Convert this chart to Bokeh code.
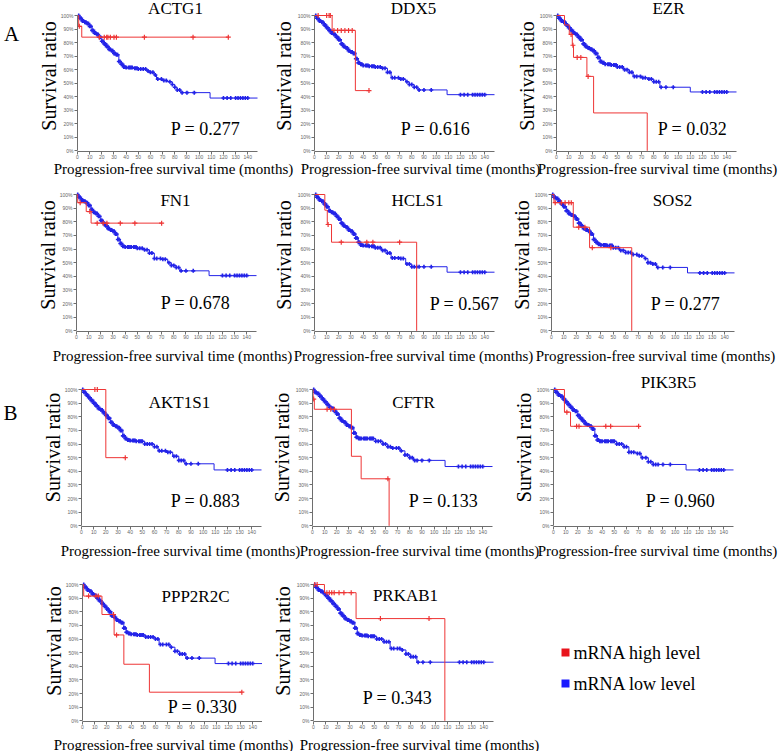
import numpy as np
from bokeh.plotting import figure
from bokeh.layouts import column, row
from bokeh.models import Range1d, FixedTicker, PrintfTickFormatter, Label, Legend, LegendItem, Title
from bokeh.embed import file_html
from bokeh.resources import INLINE

SERIF = "Liberation Serif"
BLUE = "#2323e8"
RED = "#ee3535"

GENES = ["ACTG1", "DDX5", "EZR", "FN1", "HCLS1", "SOS2",
         "AKT1S1", "CFTR", "PIK3R5", "PPP2R2C", "PRKAB1"]
P_VALUES = ["0.277", "0.616", "0.032", "0.678", "0.567", "0.277",
            "0.883", "0.133", "0.960", "0.330", "0.343"]
X_LABEL = "Progression-free survival time (months)"
Y_LABEL = "Survival ratio"
LEGEND_LABELS = ["mRNA high level", "mRNA low level"]

X_TICKS = [0, 10, 20, 30, 40, 50, 60, 70, 80, 90, 100, 110, 120, 130, 140]
Y_TICKS = [0, 10, 20, 30, 40, 50, 60, 70, 80, 90, 100]

EARLY_T = [0, 2, 4, 6, 8, 10, 12, 14, 16, 18, 20, 22, 24, 26, 28, 30, 32, 34, 36, 38, 40]

# ---- mRNA low level (blue) Kaplan-Meier steps: months, survival % ----
ACTG1_LOW_T = EARLY_T + [46, 50, 57, 60, 63, 65, 70, 74, 78, 80, 82, 85, 109, 148]
ACTG1_LOW_S = [100, 98, 96, 95, 94, 92, 89, 87, 86, 84, 81, 79, 77, 75, 74, 72, 71, 66, 64, 62, 61.5,
               61, 60.5, 59, 58, 56, 53, 52, 51, 49, 47, 45, 43, 39, 39]
DDX5_LOW_T = EARLY_T + [45, 50, 55, 60, 63, 70, 75, 78, 82, 85, 109, 148]
DDX5_LOW_S = [100, 98, 96, 95, 93, 91, 89, 87, 86, 84, 82, 79, 77, 76, 74, 73, 72, 68, 65, 64, 63,
              62.5, 62, 61, 58, 54, 53, 51, 49, 47, 45, 41.5, 41.5]
EZR_LOW_T = EARLY_T + [45, 50, 55, 60, 63, 70, 75, 80, 85, 110, 148]
EZR_LOW_S = [100, 98, 96, 95, 93, 91, 89, 87, 86, 84, 82, 79, 77, 76, 75, 74, 72, 69, 66, 65, 64,
             63.5, 62, 60, 58, 55, 54, 53, 51, 47, 43.5, 43.5]
FN1_LOW_T = EARLY_T + [45, 50, 55, 60, 64, 70, 75, 78, 82, 85, 109, 148]
FN1_LOW_S = [100, 98, 96, 95, 94, 92, 89, 87, 86, 84, 81, 79, 77, 75, 74, 73, 71, 67, 64, 62, 61.5,
             61.5, 60.5, 59.5, 57, 53, 52.5, 50, 48, 46.5, 44, 40.5, 40.5]
HCLS1_LOW_T = EARLY_T + [45, 50, 55, 60, 63, 70, 75, 80, 109, 148]
HCLS1_LOW_S = [100, 98, 96, 95, 93, 91, 88, 87, 86, 84, 82, 79, 77, 76, 74, 73, 71, 68, 65, 63, 62.5,
               62, 61, 59, 57, 53.5, 53, 49, 47, 43, 43]
SOS2_LOW_T = EARLY_T + [45, 50, 55, 60, 65, 70, 75, 78, 82, 85, 110, 148]
SOS2_LOW_S = [100, 98, 97, 95, 93, 91, 88, 86, 85, 84, 82, 79, 77, 75, 74, 73, 71, 67, 65, 63.5, 63,
              62.5, 61, 59, 57.5, 56, 55, 53, 50, 49, 46.5, 42.5, 42.5]
AKT1S1_LOW_T = EARLY_T + [45, 52, 60, 63, 70, 75, 80, 85, 109, 148]
AKT1S1_LOW_S = [100, 98, 96, 94, 92, 90, 88, 86, 85, 83, 81, 79, 76, 74, 73, 72, 70, 66, 64, 63, 62.5,
                62, 60, 58, 55, 54, 51, 48, 45.5, 41, 41]
CFTR_LOW_T = EARLY_T + [45, 52, 58, 62, 65, 72, 76, 80, 83, 109, 148]
CFTR_LOW_S = [100, 98, 97, 95, 93, 91, 89, 87, 86, 84, 82, 79, 77, 76, 74, 73, 72, 68, 65, 64, 64,
              64, 62, 60, 58, 57, 55, 52, 50, 48, 43.5, 43.5]
PIK3R5_LOW_T = EARLY_T + [48, 52, 58, 62, 68, 72, 78, 82, 109, 148]
PIK3R5_LOW_S = [100, 98, 96, 95, 93, 91, 89, 87, 85, 84, 81, 79, 77, 75, 74, 73, 71, 66, 63, 62, 62,
                62, 60, 58, 54, 53, 50, 47, 45, 41, 41]
PPP2R2C_LOW_T = EARLY_T + [45, 52, 60, 63, 72, 76, 80, 85, 109, 148]
PPP2R2C_LOW_S = [100, 98, 96, 95, 93, 92, 90, 88, 86, 84, 82, 80, 77, 76, 74, 73, 72, 68, 65, 64, 63.5,
                 63, 61.5, 60, 56, 54, 51, 49, 46, 42, 42]
PRKAB1_LOW_T = EARLY_T + [45, 52, 58, 63, 72, 76, 80, 85, 148]
PRKAB1_LOW_S = [100, 98, 96, 95, 94, 92, 90, 88, 86, 84, 82, 79, 77, 75, 74, 73, 72, 68, 64, 63, 62.5,
                62, 60, 58, 53, 52, 49, 47, 43, 43]

BLUE_CENSOR_T = [1, 2, 3, 4, 5, 6, 7, 8, 9, 10, 11, 12, 13, 14, 15, 16, 17, 18, 19, 20,
                 21, 22, 23, 24, 25, 26, 27, 28, 29, 30, 31, 32, 33, 34, 35, 36, 37, 38, 39, 40,
                 42, 43, 44, 45, 47, 48, 49, 50, 52, 54, 56, 58, 60, 62, 64, 66, 69, 71, 73,
                 76, 78, 80, 82, 84, 86, 90, 96, 120, 123, 126, 130, 132, 134, 136, 138, 140]

# ---- mRNA high level (red) ----
ACTG1_HIGH_T = [0, 1, 3.5, 124]
ACTG1_HIGH_S = [100, 92, 84, 84]
ACTG1_HIGH_C = [1.5, 18, 22, 24, 25, 27, 30, 32, 55, 95, 124]
DDX5_HIGH_T = [0, 14.5, 33.6, 44.8]
DDX5_HIGH_S = [100, 89, 44.5, 44.5]
DDX5_HIGH_C = [3, 10, 12, 13, 16, 19, 22, 25, 28, 31, 44.8]
EZR_HIGH_T = [0, 6.6, 10.5, 13, 14, 25, 30.5, 74.6]
EZR_HIGH_S = [100, 93, 86, 78, 69, 55, 28, 0]
EZR_HIGH_C = [12, 13.5, 17, 20, 26]
FN1_HIGH_T = [0, 1, 8, 12, 70]
FN1_HIGH_S = [100, 94, 87.5, 79, 79]
FN1_HIGH_C = [3, 11, 17, 22, 25, 36, 48, 70]
HCLS1_HIGH_T = [0, 8.5, 10.5, 14, 84]
HCLS1_HIGH_S = [100, 88.5, 78, 65, 0]
HCLS1_HIGH_C = [11.2, 22, 43, 48, 70]
SOS2_HIGH_T = [0, 2, 17.6, 30.8, 64.9]
SOS2_HIGH_S = [100, 94, 76, 61, 0]
SOS2_HIGH_C = [3, 8, 11, 14, 16, 22, 27, 33, 48]
AKT1S1_HIGH_T = [0, 20, 36]
AKT1S1_HIGH_S = [100, 50, 50]
AKT1S1_HIGH_C = [11, 13, 36]
CFTR_HIGH_T = [0, 0.5, 1.5, 32, 40, 63]
CFTR_HIGH_S = [100, 93, 85.5, 51, 34.5, 0]
CFTR_HIGH_C = [1, 12, 15, 18, 62]
PIK3R5_HIGH_T = [0, 9, 14, 70]
PIK3R5_HIGH_S = [100, 83.4, 73, 73]
PIK3R5_HIGH_C = [11, 19, 21, 43, 47, 70]
PPP2R2C_HIGH_T = [0, 1, 16, 26, 34, 55, 131]
PPP2R2C_HIGH_S = [100, 91.5, 78, 63, 41.5, 21, 21]
PPP2R2C_HIGH_C = [5, 11, 13, 25.5, 28, 131]
PRKAB1_HIGH_T = [0, 9, 35, 108]
PRKAB1_HIGH_S = [100, 94, 75, 0]
PRKAB1_HIGH_C = [1, 3, 11, 13, 15, 17, 21, 25, 31, 55, 95]

LOW = [(ACTG1_LOW_T, ACTG1_LOW_S), (DDX5_LOW_T, DDX5_LOW_S), (EZR_LOW_T, EZR_LOW_S),
       (FN1_LOW_T, FN1_LOW_S), (HCLS1_LOW_T, HCLS1_LOW_S), (SOS2_LOW_T, SOS2_LOW_S),
       (AKT1S1_LOW_T, AKT1S1_LOW_S), (CFTR_LOW_T, CFTR_LOW_S), (PIK3R5_LOW_T, PIK3R5_LOW_S),
       (PPP2R2C_LOW_T, PPP2R2C_LOW_S), (PRKAB1_LOW_T, PRKAB1_LOW_S)]
HIGH = [(ACTG1_HIGH_T, ACTG1_HIGH_S, ACTG1_HIGH_C), (DDX5_HIGH_T, DDX5_HIGH_S, DDX5_HIGH_C),
        (EZR_HIGH_T, EZR_HIGH_S, EZR_HIGH_C), (FN1_HIGH_T, FN1_HIGH_S, FN1_HIGH_C),
        (HCLS1_HIGH_T, HCLS1_HIGH_S, HCLS1_HIGH_C), (SOS2_HIGH_T, SOS2_HIGH_S, SOS2_HIGH_C),
        (AKT1S1_HIGH_T, AKT1S1_HIGH_S, AKT1S1_HIGH_C), (CFTR_HIGH_T, CFTR_HIGH_S, CFTR_HIGH_C),
        (PIK3R5_HIGH_T, PIK3R5_HIGH_S, PIK3R5_HIGH_C), (PPP2R2C_HIGH_T, PPP2R2C_HIGH_S, PPP2R2C_HIGH_C),
        (PRKAB1_HIGH_T, PRKAB1_HIGH_S, PRKAB1_HIGH_C)]

# ---- layout (page pixel coordinates; Bokeh's page has no body margin) ----
PAGE_W = 778
LETTER_W = 30
COL_X = [30, 262, 500]
COL_W = [232, 238, 278]
ROW_Y = [0, 178, 368, 560]                  # top of each panel row
ROW_FRAME = [(15, 151), (194, 331), (389, 526), (584, 721)]   # y of 100% and 0%
AXIS_H = 10                                 # ticks + tick labels under each frame
STRIP_END = [178, 368, 560, 751]            # bottom of the x-label strip of each row
YLAB_STANDOFF = [-5, 0, -2]
# per panel: row, col, x of month 0, px width of 148 months, title xy, P xy, xlabel xy
GEOM = [
    (0, 0, 77, 180, (175, 8), (205, 128), (173, 168)),
    (0, 1, 314, 180, (413, 8), (435, 128), (420, 168)),
    (0, 2, 556, 180, (668, 8), (692, 128), (657, 168)),
    (1, 0, 76, 180, (175, 200), (195, 302), (172, 355)),
    (1, 1, 314, 180, (417, 200), (464, 303), (413, 355)),
    (1, 2, 551, 183, (672, 200), (685, 303), (655, 355)),
    (2, 0, 81, 180, (179, 402), (205, 500), (180, 550)),
    (2, 1, 312, 180, (413, 402), (443, 500), (419, 550)),
    (2, 2, 553, 180, (668, 382), (680, 500), (657, 550)),
    (3, 0, 82, 180, (195, 596), (202, 706), (173, 744)),
    (3, 1, 313, 180, (405, 595), (397, 697), (419, 744)),
]
LEGEND_TEXT_XY = [(573, 652), (573, 683)]
X_MAX = 148
Y_MIN = -0.5


def step_at(ts, ss, c):
    i = np.searchsorted(np.asarray(ts, dtype=float), c, side="right") - 1
    return ss[max(i, 0)]


def panel_height(r):
    return ROW_FRAME[r][1] + AXIS_H - ROW_Y[r]


def make_panel(k):
    r, c, fl, fw, tpos, ppos, xpos = GEOM[k]
    ft, fb = ROW_FRAME[r]
    cell_right = COL_X[c] + COL_W[c]
    frame_w = cell_right - fl
    x_end = X_MAX * frame_w / fw
    k_px = (fb - ft) / (100 - Y_MIN)
    y_end = 100 + (ft - ROW_Y[r]) / k_px
    p = figure(width=COL_W[c], height=panel_height(r), output_backend="svg", toolbar_location=None,
               x_range=Range1d(0, x_end), y_range=Range1d(Y_MIN, y_end),
               min_border_left=fl - COL_X[c], min_border_right=0,
               min_border_top=0, min_border_bottom=AXIS_H)
    p.outline_line_color = None
    p.grid.visible = False
    p.background_fill_color = "white"
    p.border_fill_color = "white"

    for ax in (p.xaxis[0], p.yaxis[0]):
        ax.axis_line_color = "#6e6e6e"
        ax.major_tick_line_color = "#6e6e6e"
        ax.minor_tick_line_color = None
        ax.major_tick_out = 3
        ax.major_tick_in = 0
        ax.major_label_text_font = "Liberation Sans"
        ax.major_label_text_font_size = "5px"
        ax.major_label_text_color = "#666666"
        ax.major_label_standoff = 1
    p.xaxis.major_label_standoff = 0
    p.xaxis.bounds = (0, X_MAX)
    p.yaxis.bounds = (0, 100)
    p.xaxis.ticker = FixedTicker(ticks=X_TICKS)
    p.yaxis.ticker = FixedTicker(ticks=Y_TICKS)
    p.yaxis.formatter = PrintfTickFormatter(format="%d%%")

    # y-axis title, centred on the 0-100 % span
    frame_cy = (ROW_Y[r] + fb) / 2
    p.add_layout(Title(text=Y_LABEL, align="center", offset=-((ft + fb) / 2 - frame_cy),
                       standoff=YLAB_STANDOFF[c], text_font=SERIF, text_font_size="20px",
                       text_font_style="normal", text_color="black"), "left")

    lt, ls = LOW[k]
    ht, hs, hc = HIGH[k]
    p.step(lt, ls, mode="after", line_color=BLUE, line_width=1)
    bc = [t for t in BLUE_CENSOR_T if t <= lt[-1]]
    p.scatter(bc, [step_at(lt, ls, t) for t in bc], marker="cross", size=4,
              line_color=BLUE, line_width=1.6)
    p.step(ht, hs, mode="after", line_color=RED, line_width=1)
    p.scatter(hc, [step_at(ht, hs, t) for t in hc], marker="cross", size=5,
              line_color=RED, line_width=1.2)

    def lab(text, pos, size):
        p.add_layout(Label(x=pos[0] - fl, y=fb - pos[1], x_units="screen", y_units="screen",
                           text=text, text_align="center", text_baseline="middle",
                           text_font=SERIF, text_font_size=size, text_color="black"))

    lab(GENES[k], tpos, "17px")
    lab("P = " + P_VALUES[k], ppos, "18px")
    return p


def blank(width, height):
    b = figure(width=width, height=height, output_backend="svg", toolbar_location=None,
               x_range=Range1d(0, 1), y_range=Range1d(0, 1),
               x_axis_location=None, y_axis_location=None,
               min_border_left=0, min_border_right=0, min_border_top=0, min_border_bottom=0)
    b.outline_line_color = None
    b.grid.visible = False
    return b


def letter_strip(r, letter, pos):
    # frames in a row are aligned, so this frame spans the row's plot frames
    b = blank(LETTER_W, panel_height(r))
    b.min_border_bottom = AXIS_H
    if letter:
        b.add_layout(Label(x=pos[0], y=ROW_FRAME[r][1] - pos[1], x_units="screen", y_units="screen",
                           text=letter, text_align="center", text_baseline="middle",
                           text_font=SERIF, text_font_size="21px", text_color="black"))
    return b


def xlabel_strip(r):
    top = ROW_FRAME[r][1] + AXIS_H
    h = STRIP_END[r] - top
    b = blank(PAGE_W, h)
    for k, g in enumerate(GEOM):
        if g[0] == r:
            b.add_layout(Label(x=g[6][0], y=STRIP_END[r] - g[6][1], x_units="screen", y_units="screen",
                               text=X_LABEL, text_align="center", text_baseline="middle",
                               text_font=SERIF, text_font_size="15px", text_color="black"))
    return b


panels = [make_panel(k) for k in range(len(GENES))]

# legend panel (its frame is aligned with the row-4 plot frames: left 500, bottom 721)
lg = blank(COL_W[2], panel_height(3))
lg.min_border_bottom = AXIS_H
r_high = lg.quad(left=[np.nan], right=[np.nan], top=[np.nan], bottom=[np.nan],
                 fill_color="#e8141c", line_color=None)
r_low = lg.quad(left=[np.nan], right=[np.nan], top=[np.nan], bottom=[np.nan],
                fill_color="#1a1aff", line_color=None)
# swatches from the legend; the serif key texts are set as labels beside them
legend = Legend(items=[LegendItem(label="", renderers=[r_high]),
                       LegendItem(label="", renderers=[r_low])],
                location=(60, 27.5), padding=0, margin=0, spacing=10,
                glyph_width=10, glyph_height=10, label_standoff=0, label_height=21,
                label_width=0, border_line_color=None, background_fill_alpha=0)
lg.add_layout(legend)
fl_lg, fb_lg = COL_X[2], ROW_FRAME[3][1]
for txt, (tx, ty) in zip(LEGEND_LABELS, LEGEND_TEXT_XY):
    lg.add_layout(Label(x=tx - fl_lg, y=fb_lg - ty, x_units="screen", y_units="screen",
                        text=txt, text_align="left", text_baseline="middle",
                        text_font=SERIF, text_font_size="18px", text_color="black"))

layout = column(
    row(letter_strip(0, "A", (11, 33)), panels[0], panels[1], panels[2], spacing=0),
    xlabel_strip(0),
    row(letter_strip(1, "", None), panels[3], panels[4], panels[5], spacing=0),
    xlabel_strip(1),
    row(letter_strip(2, "B", (10, 412)), panels[6], panels[7], panels[8], spacing=0),
    xlabel_strip(2),
    row(letter_strip(3, "", None), panels[9], panels[10], lg, spacing=0),
    xlabel_strip(3),
    spacing=0,
)

open("out.html", "w").write(file_html(layout, INLINE))
